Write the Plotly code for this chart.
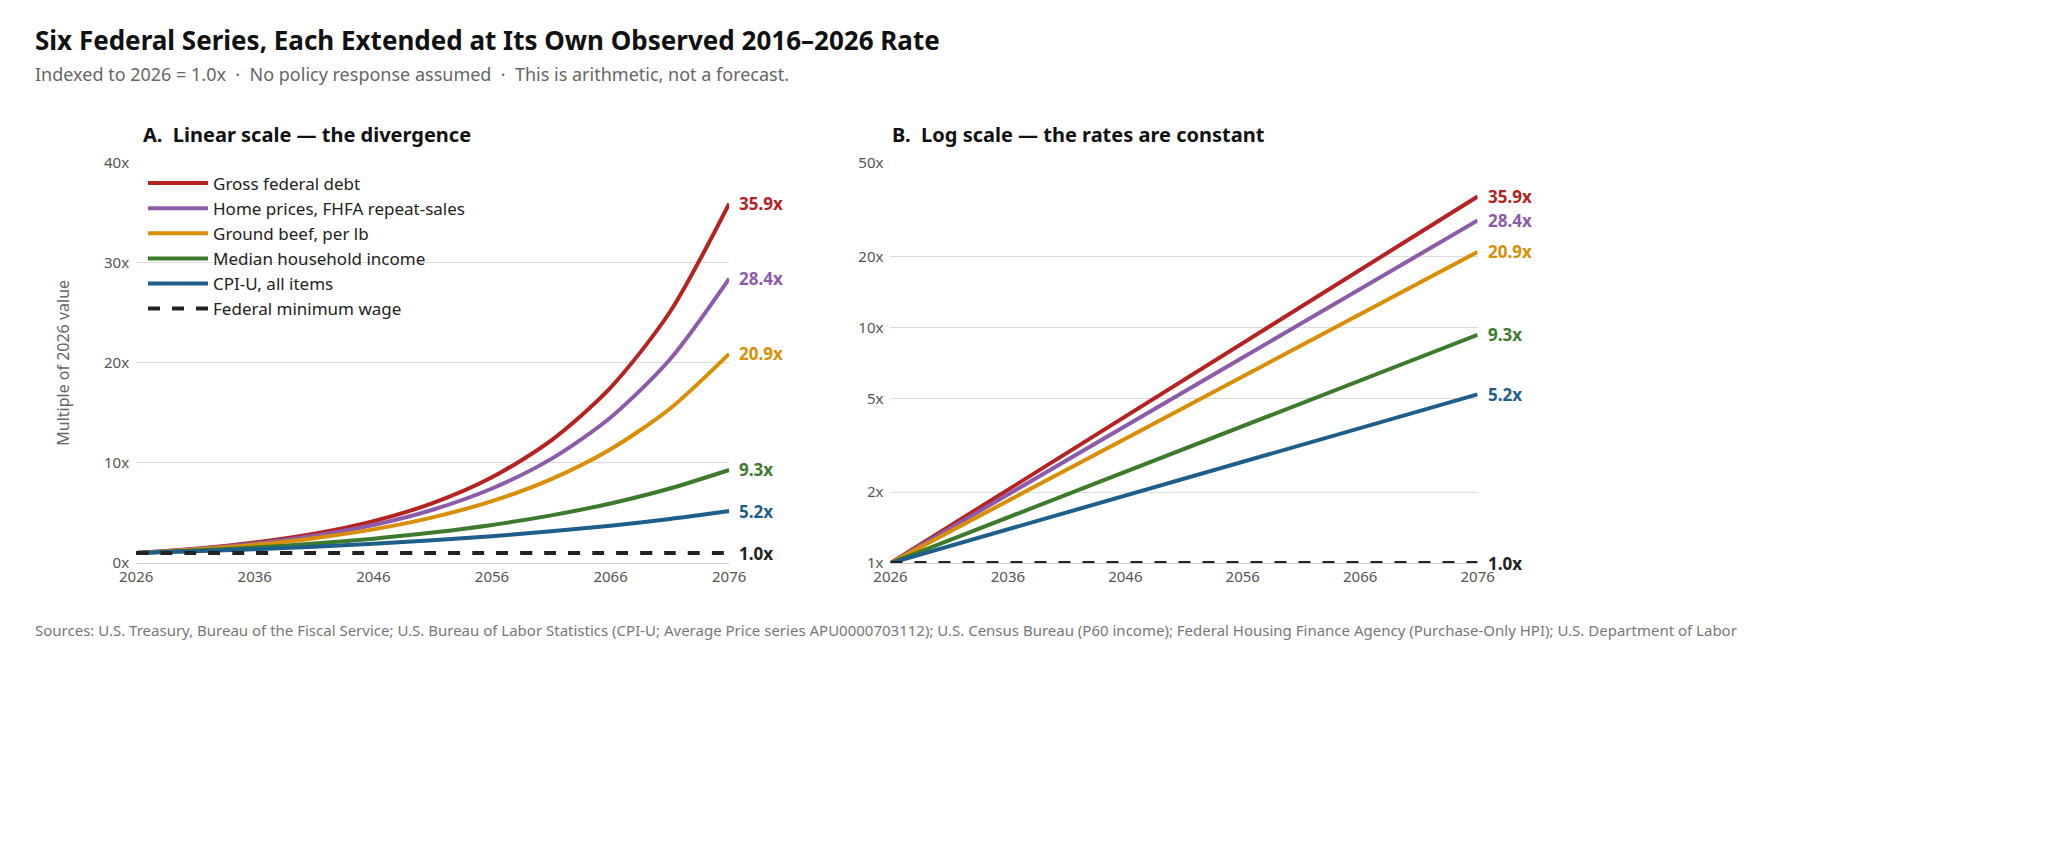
import plotly.graph_objects as go
import math

years = [2026, 2031, 2036, 2041, 2046, 2051, 2056, 2061, 2066, 2071, 2076]
names = ["Gross federal debt", "Home prices, FHFA repeat-sales", "Ground beef, per lb",
         "Median household income", "CPI-U, all items", "Federal minimum wage"]
debt = [1, 1.43, 2.05, 2.93, 4.19, 5.99, 8.57, 12.26, 17.53, 25.08, 35.9]
home = [1, 1.40, 1.95, 2.73, 3.81, 5.33, 7.45, 10.41, 14.55, 20.33, 28.4]
beef = [1, 1.36, 1.84, 2.49, 3.37, 4.57, 6.19, 8.39, 11.37, 15.42, 20.9]
income = [1, 1.25, 1.56, 1.95, 2.44, 3.05, 3.81, 4.77, 5.96, 7.45, 9.3]
cpi = [1, 1.18, 1.39, 1.64, 1.93, 2.28, 2.69, 3.17, 3.74, 4.41, 5.2]
minwage = [1, 1, 1, 1, 1, 1, 1, 1, 1, 1, 1.0]
series = [debt, home, beef, income, cpi, minwage]
colors = ["#B5221F", "#8C5BA9", "#D98E04", "#3E7A2E", "#1E5E8A", "#222222"]
x_ticks = [2026, 2036, 2046, 2056, 2066, 2076]
lin_ticks = [0, 10, 20, 30, 40]
log_ticks = [1, 2, 5, 10, 20, 50]

FONT = "Noto Sans"
fig = go.Figure()
for s, n, c in zip(series, names, colors):
    dash = "dash" if n == "Federal minimum wage" else "solid"
    fig.add_trace(go.Scatter(x=years, y=s, name=n, mode="lines",
                             line=dict(color=c, width=4, dash=dash, shape="spline", smoothing=0.8),
                             xaxis="x", yaxis="y"))
    fig.add_trace(go.Scatter(x=years, y=s, name=n, mode="lines", showlegend=False,
                             line=dict(color=c, width=4, dash=dash), xaxis="x2", yaxis="y2"))
    fig.add_annotation(x=years[-1], y=s[-1], xref="x", yref="y", text=f"<b>{s[-1]:.1f}x</b>",
                       showarrow=False, xanchor="left", xshift=8, font=dict(color=c, size=17, family=FONT))
    fig.add_annotation(x=years[-1], y=math.log10(s[-1]), xref="x2", yref="y2", text=f"<b>{s[-1]:.1f}x</b>",
                       showarrow=False, xanchor="left", xshift=8, font=dict(color=c, size=17, family=FONT))

yb, yt = 1 - 557/864, 1 - 147/864
xcommon = dict(range=[2026, 2076], tickvals=x_ticks, showgrid=False, showline=True,
               linecolor="#cccccc", ticks="", tickfont=dict(size=15, color="#555"), zeroline=False)
fig.update_layout(
    width=2060, height=864, margin=dict(l=0, r=0, t=0, b=0),
    plot_bgcolor="white", paper_bgcolor="white",
    font=dict(family=FONT, color="#222"),
    xaxis=dict(domain=[113/2060, 716/2060], anchor="y", **xcommon),
    xaxis2=dict(domain=[880/2060, 1477/2060], anchor="y2", **xcommon),
    yaxis=dict(domain=[yb, yt], anchor="x", range=[0, 40], tickvals=lin_ticks,
               ticktext=[f"{v}x" for v in lin_ticks], gridcolor="#dddddd", zeroline=False,
               tickfont=dict(size=15, color="#555"), ticklabelstandoff=6,
               title=dict(text="Multiple of 2026 value", font=dict(size=16, color="#666"), standoff=30)),
    yaxis2=dict(domain=[yb, yt], anchor="x2", type="log", range=[0, math.log10(50)], tickvals=log_ticks,
                ticktext=[f"{v}x" for v in log_ticks], gridcolor="#dddddd", zeroline=False,
                tickfont=dict(size=15, color="#555"), ticklabelstandoff=6),
    legend=dict(x=120/2060, y=1 - 150/864, xanchor="left", yanchor="top",
                font=dict(size=17, color="#222"), bgcolor="rgba(255,255,255,0)",
                itemwidth=60, tracegroupgap=0),
    showlegend=True,
)
fig.add_annotation(x=8/2060, y=1 - 22/864, xref="paper", yref="paper", xanchor="left", yanchor="middle",
                   text="<b>Six Federal Series, Each Extended at Its Own Observed 2016–2026 Rate</b>",
                   showarrow=False, font=dict(size=26, color="#111"))
fig.add_annotation(x=8/2060, y=1 - 56/864, xref="paper", yref="paper", xanchor="left", yanchor="middle",
                   text="Indexed to 2026 = 1.0x  ·  No policy response assumed  ·  This is arithmetic, not a forecast.",
                   showarrow=False, font=dict(size=18, color="#666"))
fig.add_annotation(x=118/2060, y=1 - 118/864, xref="paper", yref="paper", xanchor="left", yanchor="middle",
                   text="<b>A.  Linear scale — the divergence</b>", showarrow=False, font=dict(size=20, color="#111"))
fig.add_annotation(x=880/2060, y=1 - 118/864, xref="paper", yref="paper", xanchor="left", yanchor="middle",
                   text="<b>B.  Log scale — the rates are constant</b>", showarrow=False, font=dict(size=20, color="#111"))
fig.add_annotation(x=8/2060, y=1 - 625/864, xref="paper", yref="paper", xanchor="left", yanchor="middle",
                   text="Sources: U.S. Treasury, Bureau of the Fiscal Service; U.S. Bureau of Labor Statistics (CPI-U; Average Price series APU0000703112); U.S. Census Bureau (P60 income); Federal Housing Finance Agency (Purchase-Only HPI); U.S. Department of Labor",
                   showarrow=False, font=dict(size=15, color="#777"))
fig.write_html("out.html")
